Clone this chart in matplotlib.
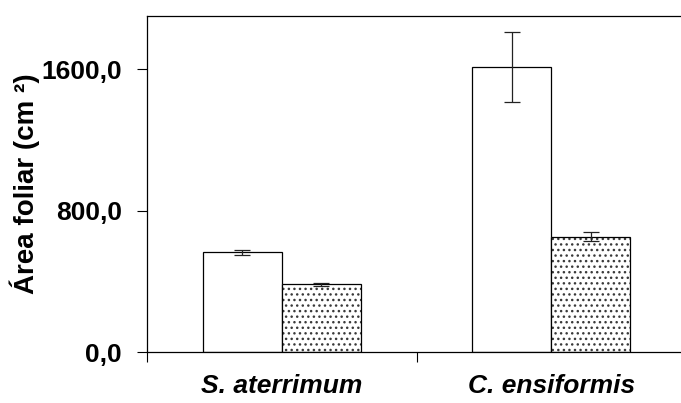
import numpy as np
import matplotlib
matplotlib.use("Agg")
import matplotlib.pyplot as plt

# data
species = ["S. aterrimum", "C. ensiformis"]
area_open = [565, 1613]      # white bars
err_open = [14, 197]
area_dotted = [383, 652]     # dotted bars
err_dotted = [8, 27]
yticks = [0, 800, 1600]
ytick_labels = ["0,0", "800,0", "1600,0"]

plt.rcParams["font.family"] = ["Liberation Sans", "DejaVu Sans"]
plt.rcParams["font.weight"] = "bold"
plt.rcParams["hatch.linewidth"] = 1.0

fig = plt.figure(figsize=(6.81, 4.03), dpi=100)
ax = fig.add_axes([147 / 681, 51 / 403, 539 / 681, 336 / 403])

x = np.arange(len(species)) + 0.5
w = 0.293

ax.bar(x - w / 2, area_open, w, color="white", edgecolor="black", linewidth=0.9, zorder=2)
# dotted fill drawn in grey, outline on top in black
ax.bar(x + w / 2, area_dotted, w, color="white", edgecolor="#3a3a3a", hatch="...",
       linewidth=0, zorder=2)
ax.bar(x + w / 2, area_dotted, w, fill=False, edgecolor="black", linewidth=0.9, zorder=3)

ax.errorbar(x - w / 2, area_open, yerr=err_open, fmt="none", ecolor="#222222",
            elinewidth=0.9, capsize=5.8, capthick=0.9, zorder=4)
ax.errorbar(x + w / 2, area_dotted, yerr=err_dotted, fmt="none", ecolor="#222222",
            elinewidth=0.9, capsize=5.8, capthick=0.9, zorder=4)

ax.set_xlim(0, 2)
ax.set_ylim(0, 1900)

# group boundaries as ticks, species names centred between them
ax.set_xticks([0, 1, 2])
ax.set_xticklabels([])
ax.set_xticks(x, minor=True)
ax.set_xticklabels(species, minor=True, fontsize=19, fontweight="bold", style="italic")
ax.tick_params(axis="x", which="major", direction="out", length=7, width=0.8)
ax.tick_params(axis="x", which="minor", length=0, pad=16)

ax.set_yticks(yticks)
ax.set_yticklabels(ytick_labels, fontsize=19, fontweight="bold")
ax.tick_params(axis="y", direction="out", length=7, width=0.8, pad=11)

ax.set_ylabel("Área foliar (cm ²)", fontsize=20, fontweight="bold")
ax.yaxis.set_label_coords(-0.198, 0.5)

for s in ["left", "bottom", "top"]:
    ax.spines[s].set_linewidth(0.9)
ax.spines["right"].set_visible(False)

fig.savefig("out.png", dpi=100)
